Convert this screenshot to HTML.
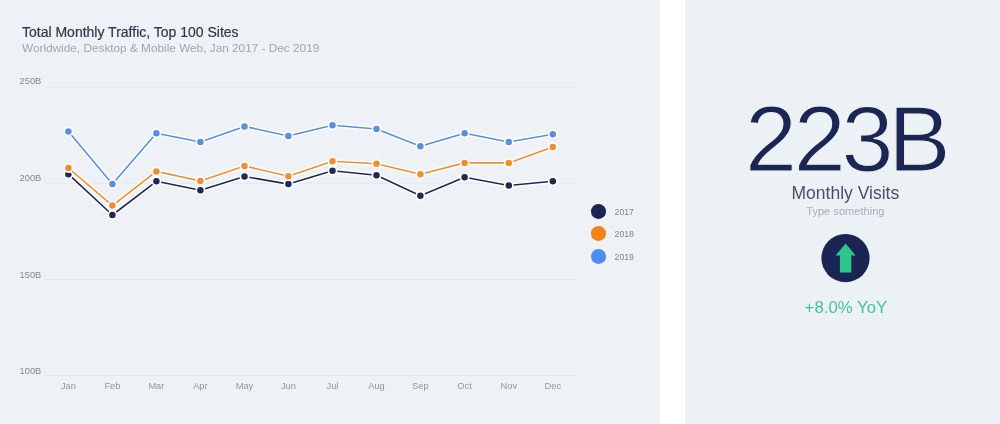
<!DOCTYPE html>
<html lang="en">
<head>
<meta charset="utf-8">
<title>Total Monthly Traffic, Top 100 Sites</title>
<style>
html,body{margin:0;padding:0;}
body{width:1000px;height:424px;position:relative;overflow:hidden;background:#ffffff;font-family:"Liberation Sans",sans-serif;}
.left{position:absolute;left:0;top:0;width:658.6px;height:424px;background:#eef2f6;box-shadow:0 0 1.5px rgba(40,50,70,0.18);}
.right{position:absolute;left:685.6px;top:0;width:314.4px;height:424px;background:#ebf1f5;box-shadow:0 0 1.5px rgba(40,50,70,0.18);}
.chart{position:absolute;left:0;top:0;}
.title{position:absolute;left:22px;top:22.6px;font-size:14px;line-height:18px;color:#30374a;white-space:nowrap;-webkit-text-stroke:0.2px #30374a;}
.sub{position:absolute;left:22px;top:39.5px;font-size:11.8px;line-height:16px;color:#9fa5ae;white-space:nowrap;}
.yl{position:absolute;left:19.6px;font-size:9.3px;line-height:12px;color:#828993;white-space:nowrap;}
.xl{position:absolute;top:380.1px;width:40px;text-align:center;font-size:9.3px;line-height:12px;color:#9096a0;white-space:nowrap;}
.ld{position:absolute;left:591.2px;width:14.6px;height:14.6px;border-radius:50%;}
.lt{position:absolute;left:614.6px;font-size:8.7px;line-height:12px;color:#7d848e;white-space:nowrap;}
.bigsvg{position:absolute;left:0;top:86px;overflow:visible;}
.bigt{font-family:"Liberation Sans",sans-serif;font-size:93.5px;fill:#1b2653;stroke:#ebf1f5;stroke-width:1.2px;}
.mv{position:absolute;left:0;width:319.5px;top:183px;text-align:center;font-size:17.5px;line-height:20px;color:#4a5166;white-space:nowrap;}
.ts{position:absolute;left:0;width:319.6px;top:203.6px;text-align:center;font-size:11.1px;line-height:14px;color:#a9aeb6;white-space:nowrap;}
.icon{position:absolute;left:135px;top:232.5px;}
.yoy{position:absolute;left:0;width:320.6px;top:299.4px;text-align:center;font-size:16.8px;line-height:18px;color:#45c596;white-space:nowrap;}
</style>
</head>
<body>
<div class="left">
<svg class="chart" width="659" height="424" viewBox="0 0 659 424">
<line x1="45" y1="87.3" x2="576" y2="87.3" stroke="#e5e9ef" stroke-width="1"/>
<line x1="45" y1="183.3" x2="576" y2="183.3" stroke="#e5e9ef" stroke-width="1"/>
<line x1="45" y1="279.6" x2="576" y2="279.6" stroke="#e5e9ef" stroke-width="1"/>
<line x1="45" y1="375.4" x2="576" y2="375.4" stroke="#e5e9ef" stroke-width="1"/>
<polyline points="68.4,174.2 112.4,215.0 156.4,181.3 200.4,190.3 244.5,176.5 288.4,184.1 332.5,170.8 376.5,175.3 420.4,195.7 464.6,177.3 508.8,185.5 552.8,181.3" fill="none" stroke="#ffffff" stroke-width="4.4" stroke-linejoin="round" stroke-linecap="round"/>
<polyline points="68.4,174.2 112.4,215.0 156.4,181.3 200.4,190.3 244.5,176.5 288.4,184.1 332.5,170.8 376.5,175.3 420.4,195.7 464.6,177.3 508.8,185.5 552.8,181.3" fill="none" stroke="#1f2955" stroke-width="1.6" stroke-linejoin="round" stroke-linecap="round"/>
<circle cx="68.4" cy="174.2" r="4.1" fill="#1f2955" stroke="#ffffff" stroke-width="1.7"/>
<circle cx="112.4" cy="215.0" r="4.1" fill="#1f2955" stroke="#ffffff" stroke-width="1.7"/>
<circle cx="156.4" cy="181.3" r="4.1" fill="#1f2955" stroke="#ffffff" stroke-width="1.7"/>
<circle cx="200.4" cy="190.3" r="4.1" fill="#1f2955" stroke="#ffffff" stroke-width="1.7"/>
<circle cx="244.5" cy="176.5" r="4.1" fill="#1f2955" stroke="#ffffff" stroke-width="1.7"/>
<circle cx="288.4" cy="184.1" r="4.1" fill="#1f2955" stroke="#ffffff" stroke-width="1.7"/>
<circle cx="332.5" cy="170.8" r="4.1" fill="#1f2955" stroke="#ffffff" stroke-width="1.7"/>
<circle cx="376.5" cy="175.3" r="4.1" fill="#1f2955" stroke="#ffffff" stroke-width="1.7"/>
<circle cx="420.4" cy="195.7" r="4.1" fill="#1f2955" stroke="#ffffff" stroke-width="1.7"/>
<circle cx="464.6" cy="177.3" r="4.1" fill="#1f2955" stroke="#ffffff" stroke-width="1.7"/>
<circle cx="508.8" cy="185.5" r="4.1" fill="#1f2955" stroke="#ffffff" stroke-width="1.7"/>
<circle cx="552.8" cy="181.3" r="4.1" fill="#1f2955" stroke="#ffffff" stroke-width="1.7"/>
<polyline points="68.4,168.0 112.4,205.6 156.4,171.4 200.4,181.0 244.5,166.0 288.4,176.2 332.5,161.2 376.5,163.7 420.4,174.2 464.6,162.9 508.8,162.9 552.8,147.1" fill="none" stroke="#ffffff" stroke-width="4.4" stroke-linejoin="round" stroke-linecap="round"/>
<polyline points="68.4,168.0 112.4,205.6 156.4,171.4 200.4,181.0 244.5,166.0 288.4,176.2 332.5,161.2 376.5,163.7 420.4,174.2 464.6,162.9 508.8,162.9 552.8,147.1" fill="none" stroke="#ee8e2e" stroke-width="1.6" stroke-linejoin="round" stroke-linecap="round"/>
<circle cx="68.4" cy="168.0" r="4.1" fill="#ee8e2e" stroke="#ffffff" stroke-width="1.7"/>
<circle cx="112.4" cy="205.6" r="4.1" fill="#ee8e2e" stroke="#ffffff" stroke-width="1.7"/>
<circle cx="156.4" cy="171.4" r="4.1" fill="#ee8e2e" stroke="#ffffff" stroke-width="1.7"/>
<circle cx="200.4" cy="181.0" r="4.1" fill="#ee8e2e" stroke="#ffffff" stroke-width="1.7"/>
<circle cx="244.5" cy="166.0" r="4.1" fill="#ee8e2e" stroke="#ffffff" stroke-width="1.7"/>
<circle cx="288.4" cy="176.2" r="4.1" fill="#ee8e2e" stroke="#ffffff" stroke-width="1.7"/>
<circle cx="332.5" cy="161.2" r="4.1" fill="#ee8e2e" stroke="#ffffff" stroke-width="1.7"/>
<circle cx="376.5" cy="163.7" r="4.1" fill="#ee8e2e" stroke="#ffffff" stroke-width="1.7"/>
<circle cx="420.4" cy="174.2" r="4.1" fill="#ee8e2e" stroke="#ffffff" stroke-width="1.7"/>
<circle cx="464.6" cy="162.9" r="4.1" fill="#ee8e2e" stroke="#ffffff" stroke-width="1.7"/>
<circle cx="508.8" cy="162.9" r="4.1" fill="#ee8e2e" stroke="#ffffff" stroke-width="1.7"/>
<circle cx="552.8" cy="147.1" r="4.1" fill="#ee8e2e" stroke="#ffffff" stroke-width="1.7"/>
<polyline points="68.4,131.5 112.4,184.1 156.4,133.2 200.4,142.0 244.5,126.4 288.4,136.0 332.5,125.3 376.5,129.0 420.4,146.2 464.6,133.2 508.8,142.0 552.8,134.3" fill="none" stroke="#ffffff" stroke-width="4.4" stroke-linejoin="round" stroke-linecap="round"/>
<polyline points="68.4,131.5 112.4,184.1 156.4,133.2 200.4,142.0 244.5,126.4 288.4,136.0 332.5,125.3 376.5,129.0 420.4,146.2 464.6,133.2 508.8,142.0 552.8,134.3" fill="none" stroke="#598ee2" stroke-width="1.6" stroke-linejoin="round" stroke-linecap="round"/>
<circle cx="68.4" cy="131.5" r="4.1" fill="#598ee2" stroke="#ffffff" stroke-width="1.7"/>
<circle cx="112.4" cy="184.1" r="4.1" fill="#598ee2" stroke="#ffffff" stroke-width="1.7"/>
<circle cx="156.4" cy="133.2" r="4.1" fill="#598ee2" stroke="#ffffff" stroke-width="1.7"/>
<circle cx="200.4" cy="142.0" r="4.1" fill="#598ee2" stroke="#ffffff" stroke-width="1.7"/>
<circle cx="244.5" cy="126.4" r="4.1" fill="#598ee2" stroke="#ffffff" stroke-width="1.7"/>
<circle cx="288.4" cy="136.0" r="4.1" fill="#598ee2" stroke="#ffffff" stroke-width="1.7"/>
<circle cx="332.5" cy="125.3" r="4.1" fill="#598ee2" stroke="#ffffff" stroke-width="1.7"/>
<circle cx="376.5" cy="129.0" r="4.1" fill="#598ee2" stroke="#ffffff" stroke-width="1.7"/>
<circle cx="420.4" cy="146.2" r="4.1" fill="#598ee2" stroke="#ffffff" stroke-width="1.7"/>
<circle cx="464.6" cy="133.2" r="4.1" fill="#598ee2" stroke="#ffffff" stroke-width="1.7"/>
<circle cx="508.8" cy="142.0" r="4.1" fill="#598ee2" stroke="#ffffff" stroke-width="1.7"/>
<circle cx="552.8" cy="134.3" r="4.1" fill="#598ee2" stroke="#ffffff" stroke-width="1.7"/>
</svg>
<div class="title">Total Monthly Traffic, Top 100 Sites</div>
<div class="sub">Worldwide, Desktop &amp; Mobile Web, Jan 2017 - Dec 2019</div>
<div class="yl" style="top:75.2px">250B</div>
<div class="yl" style="top:172.0px">200B</div>
<div class="yl" style="top:268.8px">150B</div>
<div class="yl" style="top:364.6px">100B</div>
<div class="xl" style="left:48.4px">Jan</div>
<div class="xl" style="left:92.4px">Feb</div>
<div class="xl" style="left:136.4px">Mar</div>
<div class="xl" style="left:180.4px">Apr</div>
<div class="xl" style="left:224.5px">May</div>
<div class="xl" style="left:268.4px">Jun</div>
<div class="xl" style="left:312.5px">Jul</div>
<div class="xl" style="left:356.5px">Aug</div>
<div class="xl" style="left:400.4px">Sep</div>
<div class="xl" style="left:444.6px">Oct</div>
<div class="xl" style="left:488.8px">Nov</div>
<div class="xl" style="left:532.8px">Dec</div>
<div class="ld" style="top:204.0px;background:#1b2553"></div><div class="lt" style="top:205.6px">2017</div>
<div class="ld" style="top:226.3px;background:#f58212"></div><div class="lt" style="top:227.9px">2018</div>
<div class="ld" style="top:249.4px;background:#4f8df2"></div><div class="lt" style="top:251.0px">2019</div>
</div>
<div class="right">
<svg class="bigsvg" width="314" height="120" viewBox="0 0 314 120"><text class="bigt" x="59.1 107.8 155.6 202.3" y="85">223B</text></svg>
<div class="mv">Monthly Visits</div>
<div class="ts">Type something</div>
<svg class="icon" width="50" height="50" viewBox="0 0 50 50"><circle cx="24.5" cy="25.1" r="24.1" fill="#1b2553"/><path d="M24.6 10.6 L34.6 22.5 L30.3 22.5 L30.3 39.4 L18.9 39.4 L18.9 22.5 L14.6 22.5 Z" fill="#2ec58c"/></svg>
<div class="yoy">+8.0% YoY</div>
</div>
</body>
</html>
